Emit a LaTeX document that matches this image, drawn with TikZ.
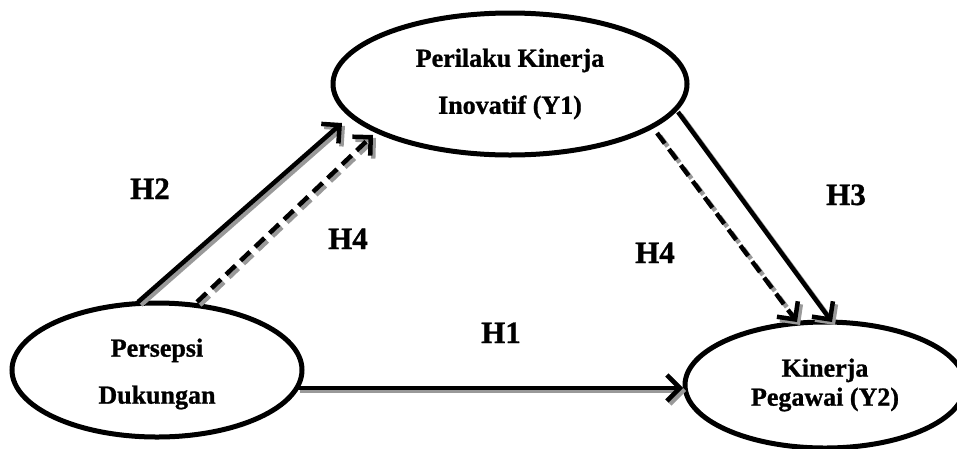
\documentclass[tikz,border=0pt]{standalone}
\usepackage{fontspec}
\setmainfont{Liberation Serif}[BoldFeatures={FakeBold=1}]
\usetikzlibrary{shapes.geometric,arrows.meta,calc}
\newcommand\sarrow[3]{%
  \draw[#1,draw=shadowgray,transform canvas={shift={(3,3)}}] #2 -- #3;
  \draw[#1] #2 -- #3;}
\definecolor{shadowgray}{gray}{0.6}
\begin{document}
\begin{tikzpicture}[x=1pt,y=-1pt,
  var/.style={ellipse,draw,line width=5pt,inner sep=0pt,align=center,
    font=\bfseries\fontsize{26}{47}\selectfont},
  arr/.style={line width=4.5pt,-{Straight Barb[length=13pt,width=26pt]}},
  dsh/.style={arr,dash pattern=on 13pt off 7pt},
  hlab/.style={font=\bfseries\fontsize{31}{31}\selectfont,anchor=base,inner sep=0pt}]
\useasboundingbox (0,0) rectangle (957,448);
\node[var,minimum width=354pt,minimum height=142pt] (T) at (510,84)
  {Perilaku Kinerja\\Inovatif (Y1)};
\node[var,minimum width=290pt,minimum height=134pt] (L) at (157,370)
  {\rule{0pt}{26pt}Persepsi\\Dukungan};
\node[var,minimum width=280pt,minimum height=126pt,
  font=\bfseries\fontsize{26}{29}\selectfont] (R) at (825,385)
  {Kinerja\\Pegawai (Y2)};
% connectors
\sarrow{arr}{($(L.center)+(-19,-68)$)}{($(T.center)+(-168,39)$)}
\sarrow{dsh}{($(L.center)+(40,-68)$)}{($(T.center)+(-137,51)$)}
\sarrow{arr}{($(T.center)+(168,28)$)}{($(R.center)+(7,-63)$)}
\sarrow{dsh}{($(T.center)+(147,49)$)}{($(R.center)+(-28,-63)$)}
\sarrow{arr}{($(L.center)+(140,18)$)}{($(R.center)+(-142,3)$)}
% labels
\node[hlab] (h2) at (150,199) {H2};
\node[hlab] (h4a) at (348,249) {H4};
\node[hlab] (h3) at (846,205) {H3};
\node[hlab] (h4b) at (655,263) {H4};
\node[hlab] (h1) at (501,343) {H1};
\end{tikzpicture}
\end{document}
